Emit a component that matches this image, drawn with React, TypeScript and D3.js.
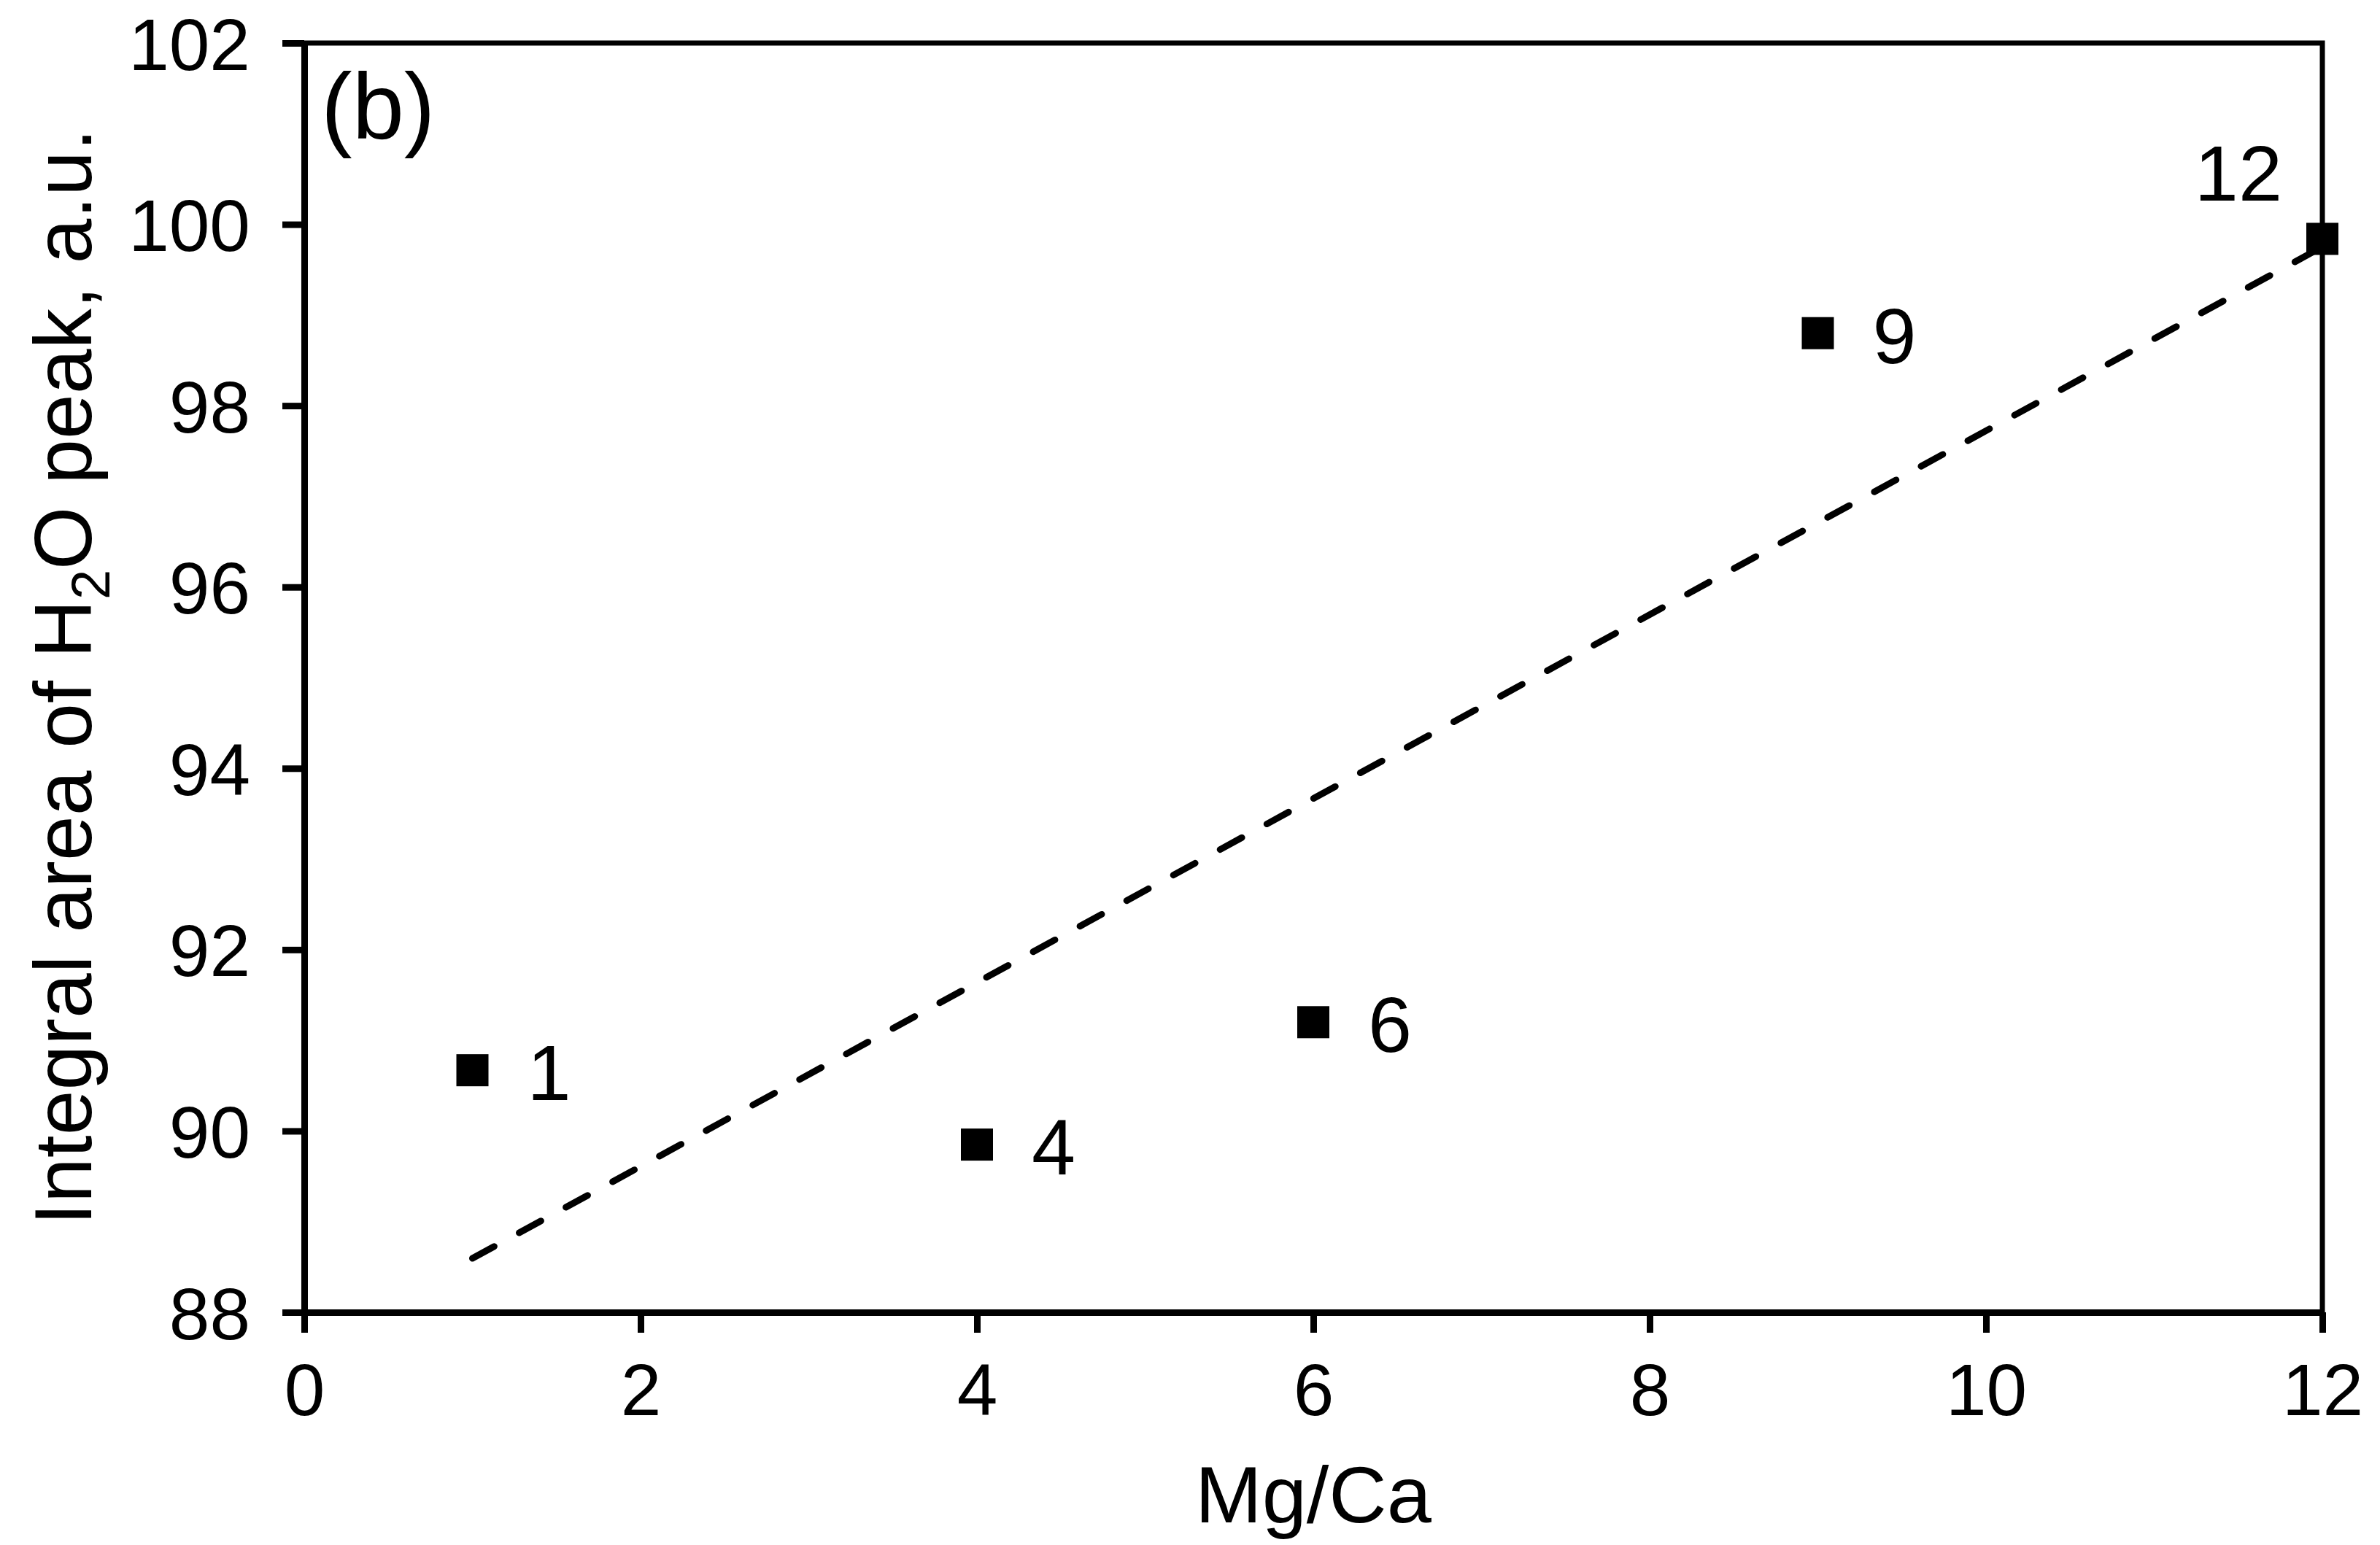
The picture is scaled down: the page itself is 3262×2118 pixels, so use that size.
import * as d3 from 'd3';
import React, { useRef, useEffect } from 'react';

// Mg/Ca ratios and integral area of the H2O peak (a.u.)
const mgCa = [1, 4, 6, 9, 12];
const h2oArea = [90.67, 89.85, 91.2, 98.8, 99.84];
const pointLabels = ['1', '4', '6', '9', '12'];
const xTicks = [0, 2, 4, 6, 8, 10, 12];
const yTicks = [88, 90, 92, 94, 96, 98, 100, 102];

const WIDTH = 3262;
const HEIGHT = 2118;
const FONT = '"Liberation Sans", Arial, sans-serif';

const ScatterChart = () => {
  const ref = useRef<SVGSVGElement>(null);

  const draw = () => {
    const svg = d3.select(ref.current);
    svg.selectAll('*').remove();

    const x = d3.scaleLinear().domain([0, 12]).range([417, 3183]);
    const y = d3.scaleLinear().domain([88, 102]).range([1799, 59]);

    svg.append('rect')
      .attr('width', WIDTH)
      .attr('height', HEIGHT)
      .attr('fill', '#fff');

    // top and right frame
    svg.append('path')
      .attr('d', `M${x(0)},${y(102)}H${x(12)}V${y(88)}`)
      .attr('fill', 'none')
      .attr('stroke', '#000')
      .attr('stroke-width', 7);

    const xAxis = svg.append('g')
      .attr('transform', `translate(0,${y(88)})`)
      .call(d3.axisBottom(x).tickValues(xTicks).tickSize(28).tickPadding(42).tickSizeOuter(0));

    const yAxis = svg.append('g')
      .attr('transform', `translate(${x(0)},0)`)
      .call(d3.axisLeft(y).tickValues(yTicks).tickSize(30).tickPadding(44).tickSizeOuter(0));

    [xAxis, yAxis].forEach((g) => {
      g.select('.domain').attr('stroke-width', 9);
      g.selectAll('.tick line').attr('stroke-width', 9);
      g.selectAll('.tick text')
        .attr('font-family', FONT)
        .attr('font-size', 100)
        .attr('fill', '#000');
    });
    yAxis.selectAll('.tick text').attr('dy', '0.36em');

    // linear trend line computed from the points
    const mx = d3.mean(mgCa);
    const my = d3.mean(h2oArea);
    const slope = d3.sum(mgCa, (v, i) => (v - mx) * (h2oArea[i] - my))
      / d3.sum(mgCa, (v) => (v - mx) * (v - mx));
    const fit = (v) => my + slope * (v - mx);
    const x0 = d3.min(mgCa);
    const x1 = d3.max(mgCa);

    svg.append('line')
      .attr('x1', x(x0))
      .attr('y1', y(fit(x0)))
      .attr('x2', x(x1))
      .attr('y2', y(fit(x1)))
      .attr('stroke', '#000')
      .attr('stroke-width', 9)
      .attr('stroke-linecap', 'round')
      .attr('stroke-dasharray', '34,39');

    const size = 44;
    svg.selectAll('rect.pt')
      .data(mgCa)
      .enter()
      .append('rect')
      .attr('class', 'pt')
      .attr('x', (d) => x(d) - size / 2)
      .attr('y', (d, i) => y(h2oArea[i]) - size / 2)
      .attr('width', size)
      .attr('height', size)
      .attr('fill', '#000');

    svg.selectAll('text.lbl')
      .data(mgCa)
      .enter()
      .append('text')
      .attr('class', 'lbl')
      .attr('x', (d, i) => (i === mgCa.length - 1 ? x(d) - 55 : x(d) + 75))
      .attr('y', (d, i) => (i === mgCa.length - 1 ? y(h2oArea[i]) - 52 : y(h2oArea[i]) + 41))
      .attr('text-anchor', (d, i) => (i === mgCa.length - 1 ? 'end' : 'start'))
      .attr('font-family', FONT)
      .attr('font-size', 108)
      .text((d, i) => pointLabels[i]);

    svg.append('text')
      .attr('x', 440)
      .attr('y', 190)
      .attr('font-family', FONT)
      .attr('font-size', 128)
      .text('(b)');

    svg.append('text')
      .attr('x', 1800)
      .attr('y', 2087)
      .attr('text-anchor', 'middle')
      .attr('font-family', FONT)
      .attr('font-size', 110)
      .text('Mg/Ca');

    const yTitle = svg.append('text')
      .attr('transform', 'translate(125,928) rotate(-90)')
      .attr('text-anchor', 'middle')
      .attr('font-family', FONT)
      .attr('font-size', 111);
    yTitle.append('tspan').text('Integral area of H');
    yTitle.append('tspan').attr('font-size', 74).attr('dy', 25).text('2');
    yTitle.append('tspan').attr('dy', -25).text('O peak, a.u.');
  };

  useEffect(() => {
    d3.select(ref.current)
      .attr('width', WIDTH)
      .attr('height', HEIGHT);
    draw();
  }, []);

  return (
    <div style={{ position: 'absolute', left: 0, top: 0 }}>
      <svg ref={ref} style={{ display: 'block' }} />
    </div>
  );
};

export default function App() {
  return <ScatterChart />;
}
